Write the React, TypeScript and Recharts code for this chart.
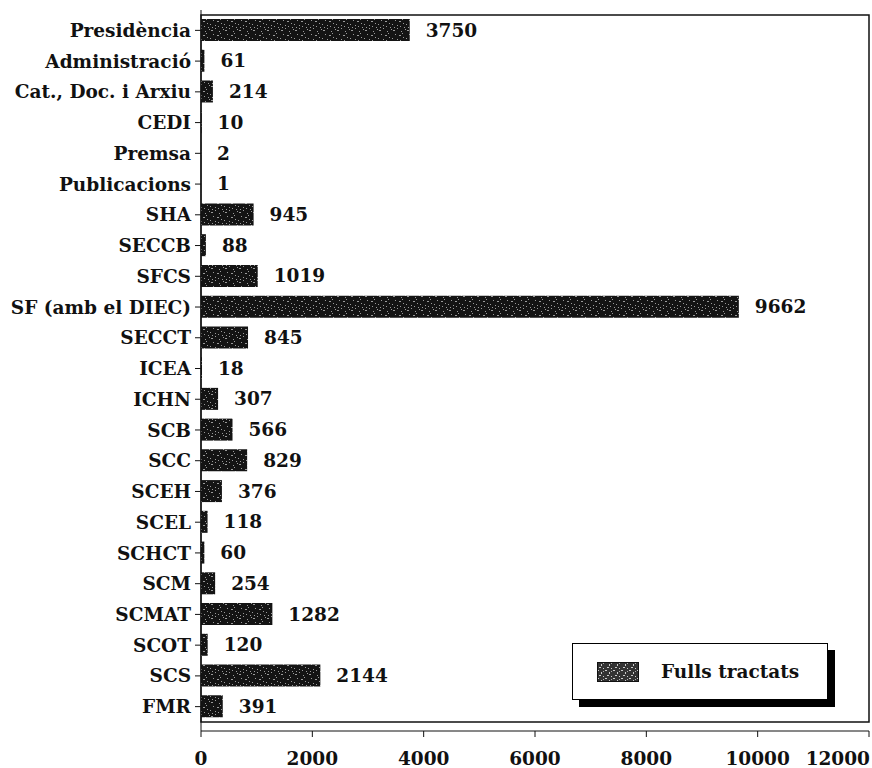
import React from 'react';
import { BarChart, Bar, XAxis, YAxis, LabelList, ReferenceArea } from 'recharts';

const categories = [
  'Presidència', 'Administració', 'Cat., Doc. i Arxiu', 'CEDI', 'Premsa', 'Publicacions',
  'SHA', 'SECCB', 'SFCS', 'SF (amb el DIEC)', 'SECCT', 'ICEA', 'ICHN', 'SCB', 'SCC',
  'SCEH', 'SCEL', 'SCHCT', 'SCM', 'SCMAT', 'SCOT', 'SCS', 'FMR',
];
const fullsTractats = [
  3750, 61, 214, 10, 2, 1, 945, 88, 1019, 9662, 845, 18, 307, 566, 829, 376, 118, 60, 254, 1282, 120, 2144, 391,
];
const xTicks = [0, 2000, 4000, 6000, 8000, 10000, 12000];
const seriesName = 'Fulls tractats';

const data = categories.map((c, i) => ({ name: c, value: fullsTractats[i] }));

const FONT = '"DejaVu Serif", serif';
const FSIZE = 18.5;

const speckles: [number, number, number][] = [
  [1, 2, 2], [5, 0, 1], [9, 3, 1], [3, 6, 1], [7, 7, 2], [11, 9, 1], [0, 10, 1], [5, 11, 1], [10, 5, 1], [2, 13, 1], [8, 12, 1], [13, 1, 1], [12, 13, 1],
];

const XTick = (props: any) => {
  const { x, y, payload } = props;
  const last = payload.value === xTicks[xTicks.length - 1];
  return (
    <text
      x={last ? x + 1 : x}
      y={y}
      dy={26}
      textAnchor={last ? 'end' : 'middle'}
      fill="#111"
      fontFamily={FONT}
      fontWeight="bold"
      fontSize={FSIZE}
    >
      {payload.value}
    </text>
  );
};

export default function App() {
  return (
    <div style={{ position: 'absolute', left: 0, top: 0, width: 872, height: 768, background: '#fff' }}>
      <BarChart
        width={872}
        height={768}
        data={data}
        layout="vertical"
        margin={{ top: 10, right: 3, bottom: 0, left: 0 }}
        barSize={22}
      >
        <defs>
          <pattern id="speckle" width={14} height={14} patternUnits="userSpaceOnUse">
            <rect width={14} height={14} fill="#141414" />
            {speckles.map(([x, y, w], i) => (
              <rect key={i} x={x} y={y} width={w} height={1} fill="#9a9a9a" />
            ))}
          </pattern>
          <pattern id="speckleLight" width={8} height={8} patternUnits="userSpaceOnUse">
            <rect width={8} height={8} fill="#333" />
            <rect x={0} y={0} width={2} height={1} fill="#ccc" />
            <rect x={4} y={2} width={1} height={2} fill="#ccc" />
            <rect x={2} y={5} width={2} height={1} fill="#ccc" />
            <rect x={6} y={6} width={1} height={1} fill="#ccc" />
            <rect x={6} y={1} width={1} height={1} fill="#aaa" />
          </pattern>
        </defs>
        <XAxis
          type="number"
          domain={[0, 12000]}
          ticks={xTicks}
          interval={0}
          height={37}
          tickSize={6}
          stroke="#111"
          tick={<XTick />}
        />
        <YAxis
          type="category"
          dataKey="name"
          width={201}
          interval={0}
          tickSize={6}
          tickMargin={4}
          padding={{ top: 5, bottom: 9 }}
          stroke="#111"
          tick={{ fill: '#111', fontFamily: FONT, fontWeight: 'bold', fontSize: FSIZE }}
        />
        <ReferenceArea x1={0} x2={12000} fill="none" stroke="#111" strokeWidth={1.5} ifOverflow="visible" />
        <Bar dataKey="value" name={seriesName} fill="url(#speckle)" isAnimationActive={false}>
          <LabelList
            dataKey="value"
            position="right"
            offset={16}
            style={{ fill: '#111', fontFamily: FONT, fontWeight: 'bold', fontSize: FSIZE }}
          />
        </Bar>
      </BarChart>
      <div
        style={{
          position: 'absolute',
          left: 572,
          top: 643,
          width: 254,
          height: 55,
          border: '1px solid #000',
          background: '#fff',
          boxShadow: '7px 7px 0 #000',
          display: 'flex',
          alignItems: 'center',
          fontFamily: FONT,
          fontWeight: 'bold',
          fontSize: FSIZE,
          color: '#111',
        }}
      >
        <svg width={42} height={20} style={{ marginLeft: 24, marginRight: 22 }}>
          <rect x={0.5} y={0.5} width={41} height={19} fill="url(#speckleLight)" stroke="#111" strokeWidth={1} />
        </svg>
        <span>{seriesName}</span>
      </div>
    </div>
  );
}
